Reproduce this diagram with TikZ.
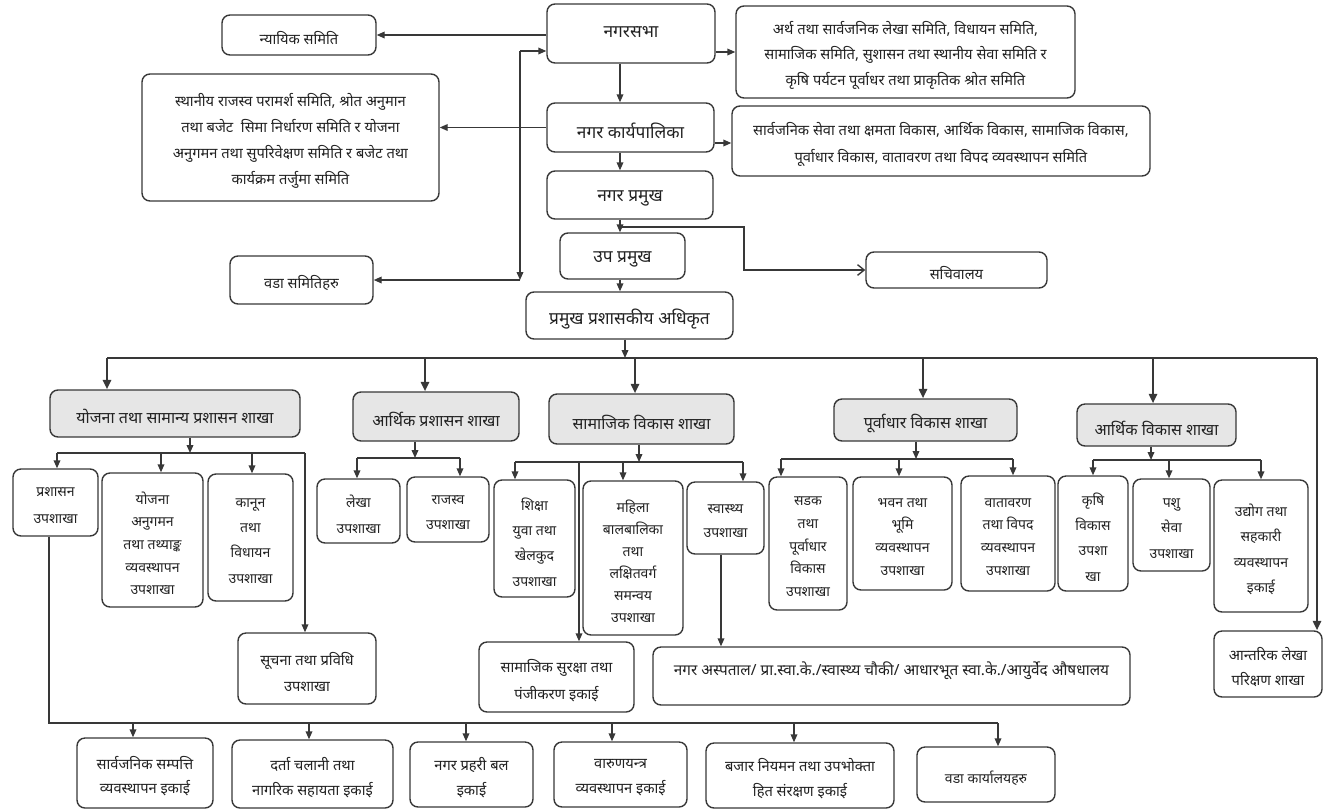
\documentclass[tikz,border=0pt]{standalone}
\usepackage{fontspec}
\setmainfont[Script=Devanagari]{Noto Sans}
\usetikzlibrary{fit,arrows.meta}
\definecolor{linec}{HTML}{383838}
\definecolor{txt}{HTML}{222222}
\definecolor{shk}{HTML}{E6E6E6}
\newcommand\bx[7][box]{%
  \node[#1,fit={(#3,#4) (#5,#6)}] (#2) {};%
  \node[#1,draw=none,fill=none,yshift=-2.5pt] (#2t) at (#2.center) {#7};}
\begin{document}
\begin{tikzpicture}[x=0.75pt,y=-0.75pt,
 box/.style={draw=linec, line width=1.05pt, rounded corners=6pt, inner sep=0pt, align=center, text=txt, font=\fontsize{11}{18}\selectfont},
 ls/.style={font=\fontsize{10.5}{#1}\selectfont},
 lb/.style={font=\fontsize{11}{#1}\selectfont},
 big/.style={box, font=\fontsize{13}{16}\selectfont},
 shakha/.style={box, fill=shk, font=\bfseries\fontsize{12}{14}\selectfont},
 ln/.style={draw=linec, line width=1.05pt},
 bus/.style={draw=linec, line width=1.8pt},
 sbus/.style={draw=linec, line width=1.5pt},
 arr/.style={ln, -{Triangle[length=6pt,width=5pt]}},
 barr/.style={bus, -{Triangle[length=7pt,width=6pt]}},
 oarr/.style={ln, -{Straight Barb[length=5pt,width=8pt]}},
]
\useasboundingbox (0,0) rectangle (1323,811);
% ---------- top level ----------
\bx[big,font=\fontsize{13}{7.5}\selectfont]{nagarsabha}{547}{4}{715}{63}{नगरसभा\\\mbox{}}
\bx{nyayik}{222}{15}{376}{55}{न्यायिक समिति}
\bx[box,lb=19]{samiti1}{736}{6}{1075}{98}{अर्थ तथा सार्वजनिक लेखा समिति, विधायन समिति,\\सामाजिक समिति, सुशासन तथा स्थानीय सेवा समिति र\\कृषि पर्यटन पूर्वाधर तथा प्राकृतिक श्रोत समिति}
\bx[big]{karya}{547}{103}{714}{152}{नगर कार्यपालिका}
\bx[box,lb=20]{samiti2}{732}{106}{1150}{176}{सार्वजनिक सेवा तथा क्षमता विकास, आर्थिक विकास, सामाजिक विकास,\\पूर्वाधार विकास, वातावरण तथा विपद व्यवस्थापन समिति}
\bx[box,lb=19.5]{bigleft}{142}{74}{439}{201}{स्थानीय राजस्व परामर्श समिति, श्रोत अनुमान\\तथा बजेट\ \ सिमा निर्धारण समिति र योजना\\अनुगमन तथा सुपरिवेक्षण समिति र बजेट तथा\\कार्यक्रम तर्जुमा समिति}
\bx[big]{pramukh}{547}{171}{713}{219}{नगर प्रमुख}
\bx[big]{upa}{560}{233}{685}{279}{उप प्रमुख}
\bx[big]{adhikrit}{526}{292}{733}{339}{प्रमुख प्रशासकीय अधिकृत}
\bx{sachiv}{866}{252}{1047}{288}{सचिवालय}
\bx{wada}{230}{256}{373}{304}{वडा समितिहरु}
% ---------- branches ----------
\bx[shakha]{yojana}{50}{390}{300}{437}{योजना तथा सामान्य प्रशासन शाखा}
\bx[shakha]{arthpra}{353}{392}{519}{441}{आर्थिक प्रशासन शाखा}
\bx[shakha]{samajik}{549}{394}{734}{444}{सामाजिक विकास शाखा}
\bx[shakha]{purva}{834}{399}{1017}{441}{पूर्वाधार विकास शाखा}
\bx[shakha]{arthvik}{1077}{404}{1236}{446}{आर्थिक विकास शाखा}
% ---------- sub branches ----------
\bx[box,ls=20]{prashasan}{13}{469}{98}{536}{प्रशासन\\उपशाखा}
\bx[box,ls=17]{anugaman}{102}{473}{203}{607}{योजना\\अनुगमन\\तथा तथ्याङ्क\\व्यवस्थापन\\उपशाखा}
\bx[box,ls=19]{kanun}{208}{474}{293}{601}{कानून\\तथा\\विधायन\\उपशाखा}
\bx[box,lb=19]{suchana}{238}{633}{376}{704}{सूचना तथा प्रविधि\\उपशाखा}
\bx[box,ls=19]{lekha}{317}{479}{400}{543}{लेखा\\उपशाखा}
\bx[box,ls=19]{rajasva}{407}{477}{489}{542}{राजस्व\\उपशाखा}
\bx[box,ls=19]{shiksha}{494}{480}{575}{597}{शिक्षा\\युवा तथा\\खेलकुद\\उपशाखा}
\bx[box,ls=16.6]{mahila}{583}{481}{683}{635}{महिला\\बालबालिका\\तथा\\लक्षितवर्ग\\समन्वय\\उपशाखा}
\bx[box,ls=18]{swasthya}{687}{482}{764}{554}{स्वास्थ्य\\उपशाखा}
\bx[box,lb=20]{suraksha}{479}{642}{634}{712}{सामाजिक सुरक्षा तथा\\पंजीकरण इकाई}
\bx[box,font=\fontsize{11.5}{16}\selectfont]{aspatal}{653}{647}{1130}{705}{नगर अस्पताल/ प्रा.स्वा.के./स्वास्थ्य चौकी/ आधारभूत स्वा.के./आयुर्वेद औषधालय\\\mbox{}}
\bx[box,ls=17]{sadak}{769}{477}{847}{610}{सडक\\तथा\\पूर्वाधार\\विकास\\उपशाखा}
\bx[box,ls=17]{bhawan}{853}{477}{952}{590}{भवन तथा\\भूमि\\व्यवस्थापन\\उपशाखा}
\bx[box,ls=17]{watawaran}{961}{476}{1055}{591}{वातावरण\\तथा विपद\\व्यवस्थापन\\उपशाखा}
\bx[box,ls=19]{krishi}{1058}{476}{1128}{591}{कृषि\\विकास\\उपशा\\खा}
\bx[box,ls=19]{pashu}{1133}{479}{1210}{571}{पशु\\सेवा\\उपशाखा}
\bx[box,ls=19]{udyog}{1214}{480}{1308}{612}{उद्योग तथा\\सहकारी\\व्यवस्थापन\\इकाई}
\bx[box,lb=19]{antarik}{1214}{631}{1322}{697}{आन्तरिक लेखा\\परिक्षण शाखा}
% ---------- bottom units ----------
\bx[box,lb=18]{sampatti}{77}{738}{213}{808}{सार्वजनिक सम्पत्ति\\व्यवस्थापन इकाई}
\bx[box,lb=19]{darta}{232}{740}{393}{808}{दर्ता चलानी तथा\\नागरिक सहायता इकाई}
\bx[box,lb=19]{prahari}{410}{742}{533}{807}{नगर प्रहरी बल\\इकाई}
\bx[box,lb=19]{warun}{554}{742}{687}{807}{वारुणयन्त्र\\व्यवस्थापन इकाई}
\bx[box,lb=19]{bajar}{706}{743}{894}{808}{बजार नियमन तथा उपभोक्ता\\हित संरक्षण इकाई}
\bx[box,ls=16]{wadakarya}{917}{747}{1055}{802}{वडा कार्यालयहरु}
% ---------- connectors: top ----------
\coordinate (xA) at (620,0);
\coordinate (vtop) at (520,51);
\coordinate (vbot) at (520,280);
\coordinate (yS1) at (0,52);
\coordinate (yS2) at (0,143);
\coordinate (sj) at (620,227);
\draw[arr] (nagarsabha.west |- nyayik.east) -- (nyayik.east);
\draw[arr] (vtop) -- (vtop -| nagarsabha.west);
\draw[arr] (vtop) -- (vbot);
\draw[arr] (vbot) -- (wada.east);
\draw[arr] (nagarsabha.south -| xA) -- (karya.north -| xA);
\draw[arr] (karya.west) -- (karya.west -| bigleft.east);
\draw[arr] (nagarsabha.east |- yS1) -- (samiti1.west |- yS1);
\draw[arr] (karya.east |- yS2) -- (samiti2.west |- yS2);
\draw[arr] (karya.south -| xA) -- (pramukh.north -| xA);
\draw[arr] (pramukh.south -| xA) -- (upa.north -| xA);
\draw[oarr] (sj) -- ++(124,0) |- (sachiv.west);
\draw[arr] (upa.south -| xA) -- (adhikrit.north -| xA);
% ---------- main bus ----------
\coordinate (xB) at (625,0);
\coordinate (busL) at (107,358);
\coordinate (busR) at (1317,358);
\coordinate (b2) at (425,358);
\coordinate (b3) at (635,358);
\coordinate (b4) at (923,358);
\coordinate (b5) at (1153,358);
\draw[bus] (busL) -- (busR);
\draw[arr] (adhikrit.south -| xB) -- (xB |- busL);
\draw[barr] (busL) -- (yojana.north -| busL);
\draw[barr] (b2) -- (arthpra.north -| b2);
\draw[barr] (b3) -- (samajik.north -| b3);
\draw[barr] (b4) -- (purva.north -| b4);
\draw[barr] (b5) -- (arthvik.north -| b5);
\draw[barr] (busR) -- (antarik.north -| busR);
% ---------- yojana sub bus ----------
\coordinate (ys) at (190,453);
\coordinate (y1) at (57,453);
\coordinate (y2) at (161,453);
\coordinate (y3) at (252,453);
\coordinate (y4) at (305,453);
\draw[arr] (yojana.south -| ys) -- (ys);
\draw[sbus] (y1) -- (y4);
\draw[arr] (y1) -- (prashasan.north -| y1);
\draw[arr] (y2) -- (anugaman.north -| y2);
\draw[arr] (y3) -- (kanun.north -| y3);
\draw[arr] (y4) -- (suchana.north -| y4);
% ---------- arthik prashasan ----------
\coordinate (as) at (415,458);
\coordinate (a1) at (357,458);
\coordinate (a2) at (460,458);
\draw[arr] (arthpra.south -| as) -- (as);
\draw[sbus] (a1) -- (a2);
\draw[arr] (a1) -- (lekha.north -| a1);
\draw[arr] (a2) -- (rajasva.north -| a2);
% ---------- samajik ----------
\coordinate (ss) at (639,462);
\coordinate (s1) at (515,462);
\coordinate (s2) at (623,462);
\coordinate (s3) at (743,462);
\coordinate (sv) at (579,462);
\coordinate (xh) at (721,0);
\draw[arr] (samajik.south -| ss) -- (ss);
\draw[sbus] (s1) -- (s3);
\draw[arr] (s1) -- (shiksha.north -| s1);
\draw[arr] (s2) -- (mahila.north -| s2);
\draw[arr] (s3) -- (swasthya.north -| s3);
\draw[arr] (sv) -- (suraksha.north -| sv);
\draw[arr] (swasthya.south -| xh) -- (aspatal.north -| xh);
% ---------- purvadhar ----------
\coordinate (ps) at (916,459);
\coordinate (p1) at (781,459);
\coordinate (p2) at (899,459);
\coordinate (p3) at (1013,459);
\draw[arr] (purva.south -| ps) -- (ps);
\draw[sbus] (p1) -- (p3);
\draw[arr] (p1) -- (sadak.north -| p1);
\draw[arr] (p2) -- (bhawan.north -| p2);
\draw[arr] (p3) -- (watawaran.north -| p3);
% ---------- arthik vikas ----------
\coordinate (es) at (1151,460);
\coordinate (e1) at (1093,460);
\coordinate (e2) at (1169,460);
\coordinate (e3) at (1261,460);
\draw[arr] (arthvik.south -| es) -- (es);
\draw[sbus] (e1) -- (e3);
\draw[arr] (e1) -- (krishi.north -| e1);
\draw[arr] (e2) -- (pashu.north -| e2);
\draw[arr] (e3) -- (udyog.north -| e3);
% ---------- bottom bus ----------
\coordinate (bl) at (49,723);
\coordinate (u1) at (133,723);
\coordinate (u2) at (309,723);
\coordinate (u3) at (466,723);
\coordinate (u4) at (612,723);
\coordinate (u5) at (794,723);
\coordinate (u6) at (998,723);
\draw[ln] (prashasan.south -| bl) -- (bl) -- (u6);
\draw[arr] (u1) -- (sampatti.north -| u1);
\draw[arr] (u2) -- (darta.north -| u2);
\draw[arr] (u3) -- (prahari.north -| u3);
\draw[arr] (u4) -- (warun.north -| u4);
\draw[arr] (u5) -- (bajar.north -| u5);
\draw[arr] (u6) -- (wadakarya.north -| u6);
\end{tikzpicture}
\end{document}
